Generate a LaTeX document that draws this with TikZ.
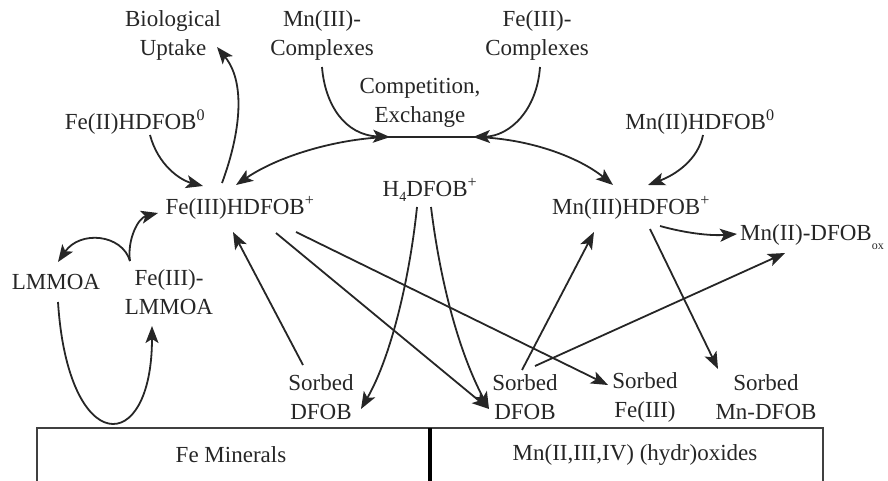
\documentclass[tikz,border=0pt]{standalone}
\usepackage{fontspec}
\setmainfont{Liberation Serif}
\usetikzlibrary{arrows.meta}
\begin{document}
\begin{tikzpicture}[x=1pt,y=-1pt,
  every node/.style={font=\fontsize{23}{29}\selectfont, inner sep=0pt, text=black!85},
  lbl/.style={align=center},
  tip/.style={},
  arr/.style={draw=black!85, line width=1.8pt, -{Stealth[length=17pt,width=13pt,inset=4pt]}},
  darr/.style={draw=black!85, line width=1.8pt, {Stealth[length=17pt,width=13pt,inset=4pt]}-{Stealth[length=17pt,width=13pt,inset=4pt]}},
  boxline/.style={draw=black!75, line width=1.2pt},
  divider/.style={draw=black, line width=3.5pt}]
\useasboundingbox (0,0) rectangle (888,481);
% nodes
\node[lbl] (bio) at (173,35) {Biological\\Uptake};
\node[lbl] (mn3c) at (322,35) {Mn(III)-\\Complexes};
\node[lbl] (fe3c) at (537,35) {Fe(III)-\\Complexes};
\node[lbl] (comp) at (420,103) {Competition,\\Exchange};
\node (fe2) at (135,122) {Fe(II)HDFOB\textsuperscript{0}};
\node (mn2) at (700,122) {Mn(II)HDFOB\textsuperscript{0}};
\node (fe3) at (240,208) {Fe(III)HDFOB\textsuperscript{+}};
\node (h4) at (430,190) {H\raisebox{-5pt}{\fontsize{14}{14}\selectfont 4}DFOB\textsuperscript{+}};
\node (mn3) at (631,208) {Mn(III)HDFOB\textsuperscript{+}};
\node[anchor=west] (mnox) at (740,237) {Mn(II)-DFOB\raisebox{-9pt}{\fontsize{12}{12}\selectfont ox}};
\node (lmmoa) at (56,282) {LMMOA};
\node[lbl] (felm) at (169,292) {Fe(III)-\\LMMOA};
\node[lbl] (sd1) at (321,397) {Sorbed\\DFOB};
\node[lbl] (sd2) at (525,397) {Sorbed\\DFOB};
\node[lbl] (sfe) at (645,397) {Sorbed\\Fe(III)};
\node[lbl] (smn) at (766,397) {Sorbed\\Mn-DFOB};
\coordinate (jl) at (390,137);
\coordinate (jr) at (473,137);
% box
\path[boxline] (37,495) -- (37,428) -- (823,428) -- (823,495);
\path[divider] (430,428) -- (430,495);
\node (fem) at (231,455) {Fe Minerals};
\node (mnm) at (635,455) {Mn(II,III,IV) (hydr)oxides};
% arrows
\draw[arr] ([shift={(15,13)}]fe2.center) .. controls +(8,30) and +(-23,-6) .. ([shift={(-37,-22)}]fe3.center);
\draw[arr] ([shift={(-18,-25)}]fe3.center) .. controls +(16,-43) and +(31,38) .. ([shift={(44,12)}]bio.center);
\draw[darr] ([shift={(-4,-23)}]fe3.center) .. controls +(44,-30) and +(-50,1) .. (jl) -- (jr)
  .. controls +(57,1) and +(-33,-27) .. ([shift={(-18,-23)}]mn3.center);
\draw[arr] ([shift={(0,32)}]mn3c.center) .. controls +(3,38) and +(-45,-2) .. (jl);
\draw[arr] ([shift={(3,32)}]fe3c.center) .. controls +(-3,43) and +(37,-1) .. (jr);
\draw[arr] ([shift={(3,13)}]mn2.center) .. controls +(-5,25) and +(27,-10) .. ([shift={(17,-23)}]mn3.center);
\draw[arr] ([shift={(29,18)}]mn3.center) .. controls +(25,7) and +(-27,2) .. ([shift={(-3,-3)}]mnox.west);
\draw[arr] ([shift={(19,21)}]mn3.center) -- ([shift={(-48,-28)}]smn.center);
\draw[arr] ([shift={(-3,-27)}]sd2.center) -- ([shift={(-37,24)}]mn3.center);
\draw[arr] ([shift={(10,-31)}]sd2.center) -- ([shift={(45,16)}]mnox.west);
\draw[arr] ([shift={(-18,-32)}]sd1.center) -- ([shift={(-7,24)}]fe3.center);
\draw[arr] ([shift={(36,25)}]fe3.center) -- ([shift={(-36,12)}]sd2.center);
\draw[arr] ([shift={(56,24)}]fe3.center) -- ([shift={(-37,-12)}]sfe.center);
\draw[arr] ([shift={(-13,17)}]h4.center) .. controls +(-7,68) and +(31,-54) .. ([shift={(40,12)}]sd1.center);
\draw[arr] ([shift={(1,17)}]h4.center) .. controls +(9,73) and +(-31,-59) .. ([shift={(-36,12)}]sd2.center);
\draw[arr] ([shift={(-39,-31)}]felm.center) .. controls +(-8,-27) and +(22,-32) .. ([shift={(2,-20)}]lmmoa.center);
\draw[arr] ([shift={(-39,-31)}]felm.center) .. controls +(-3,-21) and +(-20,5) .. ([shift={(-82,5)}]fe3.center);
\draw[arr] ([shift={(2,20)}]lmmoa.center) .. controls +(10,156) and +(0,132) .. ([shift={(-17,34)}]felm.center);
\end{tikzpicture}
\end{document}
